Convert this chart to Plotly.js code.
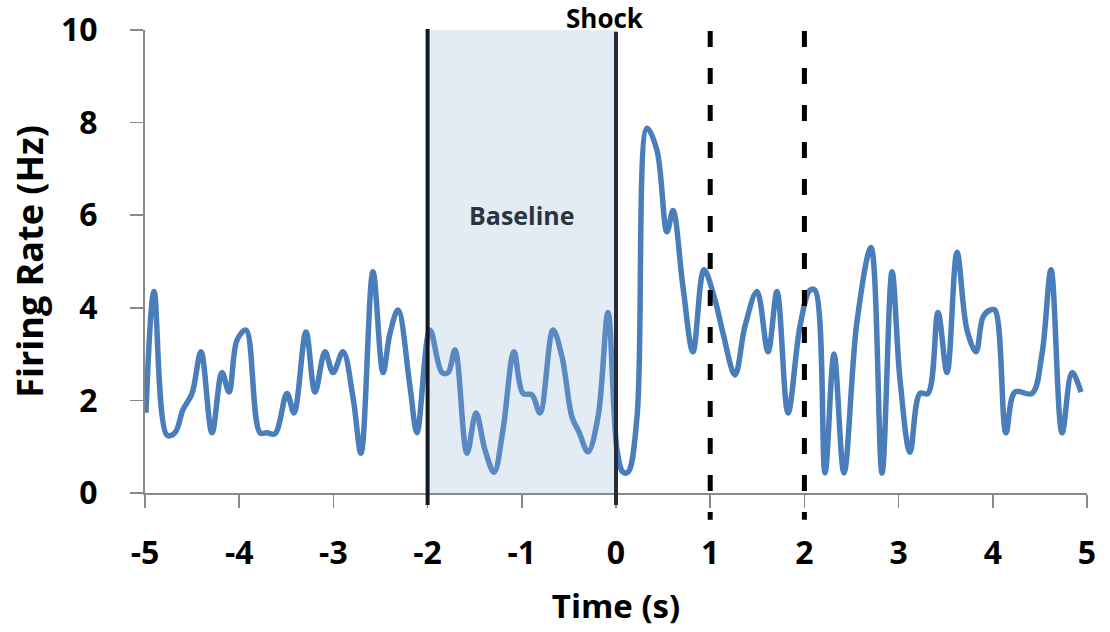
<!DOCTYPE html>
<html>
<head>
<meta charset="utf-8">
<script src="https://cdn.plot.ly/plotly-3.0.1.min.js"></script>
<style>html,body{margin:0;padding:0;background:#fff;}#chart{width:1110px;height:632px;}</style>
</head>
<body>
<div id="chart"></div>
<script>
// Time (s)
const timeSec = [-4.99,-4.904,-4.766,-4.682,-4.597,-4.501,-4.406,-4.289,-4.183,-4.108,-4.023,-3.928,-3.779,-3.705,-3.62,-3.493,-3.418,-3.291,-3.195,-3.089,-3.004,-2.898,-2.792,-2.707,-2.58,-2.473,-2.399,-2.314,-2.187,-2.113,-1.975,-1.847,-1.783,-1.709,-1.582,-1.486,-1.391,-1.295,-1.2,-1.083,-0.987,-0.892,-0.807,-0.669,-0.573,-0.467,-0.393,-0.297,-0.191,-0.085,0.011,0.074,0.127,0.223,0.329,0.435,0.541,0.605,0.711,0.817,0.934,1.051,1.136,1.263,1.369,1.497,1.614,1.709,1.826,1.953,2.059,2.113,2.219,2.314,2.42,2.558,2.707,2.824,2.93,3.015,3.121,3.227,3.312,3.418,3.514,3.62,3.726,3.822,3.896,3.97,4.023,4.14,4.236,4.416,4.522,4.618,4.735,4.841,4.936];
// Firing rate (Hz)
const firingRate = [1.73,4.35,1.25,1.3,1.8,2.15,3.05,1.3,2.6,2.18,3.3,3.52,1.3,1.3,1.28,2.15,1.73,3.48,2.18,3.05,2.6,3.05,2.07,0.86,4.78,2.6,3.45,3.95,2.3,1.3,3.52,2.6,2.6,3.09,0.86,1.73,0.93,0.45,1.36,3.05,2.15,2.12,1.73,3.52,2.94,1.64,1.32,0.89,1.64,3.9,0.93,0.45,0.45,1.64,7.88,7.4,5.64,6.1,4.45,3.05,4.82,4.17,3.45,2.55,3.6,4.35,3.05,4.35,1.73,3.6,4.38,4.38,0.43,3.0,0.43,3.7,5.3,0.43,4.78,2.45,0.88,2.15,2.15,3.9,2.6,5.2,3.52,3.05,3.8,3.95,3.95,1.3,2.18,2.15,3.0,4.82,1.3,2.6,2.18];
const xTicks = [-5,-4,-3,-2,-1,0,1,2,3,4,5];
const yTicks = [0,2,4,6,8,10];
const baselineWindow = [-2, 0];
const shockTime = 0;
const markerTimes = [1, 2];

const FONT = '"Open Sans", "Noto Sans", sans-serif';
const axisGray = '#898989';

const shapes = [
  {type:'rect', xref:'x', yref:'y', x0:baselineWindow[0], x1:baselineWindow[1], y0:0, y1:10,
   fillcolor:'rgba(143,175,215,0.25)', line:{width:0}, layer:'above'},
  {type:'line', xref:'x', yref:'paper', x0:baselineWindow[0], x1:baselineWindow[0], y0:1.002, y1:-0.026,
   line:{color:'#151a20', width:4}, layer:'above'},
  {type:'line', xref:'x', yref:'paper', x0:shockTime, x1:shockTime, y0:0.996, y1:-0.026,
   line:{color:'#252e38', width:4}, layer:'above'}
];
markerTimes.forEach(t => shapes.push({type:'line', xref:'x', yref:'paper', x0:t, x1:t, y0:0.998, y1:-0.058,
  line:{color:'#000', width:5, dash:'16px,21px'}, layer:'above'}));

const data = [{
  x: timeSec, y: firingRate, type:'scatter', mode:'lines',
  line:{color:'#4a7ebb', width:5.5, shape:'spline', smoothing:1, simplify:false},
  hoverinfo:'skip', cliponaxis:false
}];

const layout = {
  width:1110, height:632,
  margin:{l:145, r:23, t:30, b:139},
  paper_bgcolor:'#fff', plot_bgcolor:'#fff',
  showlegend:false,
  font:{family:FONT, color:'#000'},
  xaxis:{range:[-5,5], tickvals:xTicks, ticktext:xTicks.map(String), showgrid:false, zeroline:false,
    showline:true, linecolor:axisGray, linewidth:2, ticks:'outside', ticklen:13, tickwidth:1.5, tickcolor:axisGray,
    tickfont:{family:FONT, size:32, color:'#000', weight:'bold'}, ticklabelstandoff:18,
    title:{text:'<b>Time (s)</b>', font:{family:FONT, size:33, color:'#000'}, standoff:22}},
  yaxis:{range:[0,10], tickvals:yTicks, showgrid:false, zeroline:false,
    showline:true, linecolor:axisGray, linewidth:2, ticks:'outside', ticklen:13, tickwidth:1.5, tickcolor:axisGray,
    tickfont:{family:FONT, size:32, color:'#000', weight:'bold'}, ticklabelstandoff:26,
    title:{text:'<b>Firing Rate (Hz)</b>', font:{family:FONT, size:36, color:'#000'}, standoff:6}},
  shapes: shapes,
  annotations:[
    {text:'<b>Shock</b>', x:-0.12, xref:'x', y:1.0, yref:'paper', yanchor:'bottom', yshift:-8, showarrow:false,
     font:{family:FONT, size:26, color:'#000'}},
    {text:'<b>Baseline</b>', x:-1, xref:'x', y:6.0, yref:'y', showarrow:false,
     font:{family:FONT, size:25, color:'#2b3440'}}
  ]
};

Plotly.newPlot('chart', data, layout, {staticPlot:true, displayModeBar:false});
</script>
</body>
</html>
